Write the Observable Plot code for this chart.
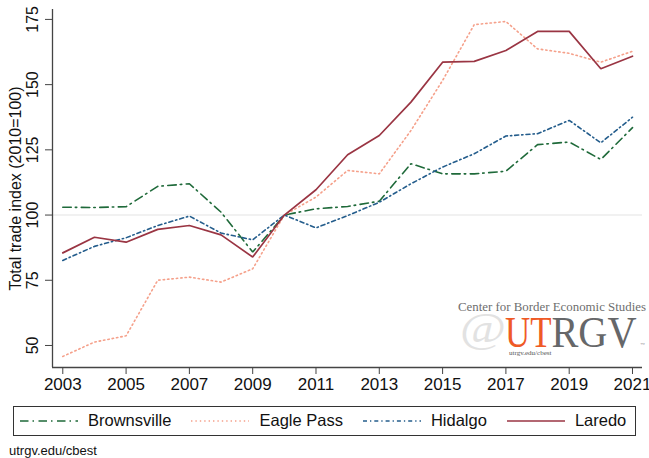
<!DOCTYPE html>
<html>
<head>
<meta charset="utf-8">
<script src="https://cdn.jsdelivr.net/npm/d3@7"></script>
<script src="https://cdn.jsdelivr.net/npm/@observablehq/plot@0.6"></script>
<style>
  body { margin: 0; background: #fff; font-family: "Liberation Sans", Arial, sans-serif; }
  #wrap { position: relative; width: 649px; height: 458px; overflow: hidden; background: #fff; }
  #chart { position: absolute; left: 0; top: 0; }
  #logo { position: absolute; left: 0; top: 0; pointer-events: none; }
  #legend { position: absolute; left: 12.5px; top: 405.5px; width: 623px; height: 30px; box-sizing: border-box;
            border: 1.3px solid #333; display: flex; align-items: center; padding-left: 6.5px; gap: 20px; }
  .item { display: flex; align-items: center; }
  .item span { margin-left: 10px; font-size: 16.5px; color: #111; }
  #caption { position: absolute; left: 9px; top: 443px; font-size: 13px; color: #111; line-height: 15px; }
</style>
</head>
<body>
<div id="wrap">
  <div id="chart"></div>
  <div id="legend"></div>
  <div id="caption">utrgv.edu/cbest</div>
</div>
<script>
// ---- data ----
const years = [2003, 2004, 2005, 2006, 2007, 2008, 2009, 2010, 2011, 2012, 2013, 2014, 2015, 2016, 2017, 2018, 2019, 2020, 2021];
const brownsville = [103.0, 102.9, 103.2, 111.0, 112.0, 101.1, 85.8, 100, 102.4, 103.3, 105.3, 119.7, 115.8, 115.8, 116.8, 127.0, 128.0, 121.3, 133.5];
const eaglePass   = [45.8, 51.3, 53.7, 75.0, 76.2, 74.3, 79.4, 100, 106.9, 117.1, 115.8, 132.4, 151.6, 173.0, 174.2, 163.7, 162.0, 158.6, 162.8];
const hidalgo     = [82.6, 88.0, 91.3, 96.0, 99.6, 93.1, 90.5, 100, 95.1, 99.8, 104.9, 112.0, 118.4, 123.5, 130.3, 131.2, 136.3, 127.7, 137.5];
const laredo      = [85.5, 91.5, 89.6, 94.5, 96.0, 92.4, 83.9, 100, 109.7, 123.1, 130.5, 143.3, 158.6, 158.9, 163.1, 170.4, 170.4, 156.1, 160.9];
const seriesNames = ["Brownsville", "Eagle Pass", "Hidalgo", "Laredo"];
const xTicks = [2003, 2005, 2007, 2009, 2011, 2013, 2015, 2017, 2019, 2021];
const yTicks = [50, 75, 100, 125, 150, 175];
const yTitle = "Total trade index (2010=100)";
const baseline = 100;

// ---- styles ----
const styles = {
  "Brownsville": { stroke: "#1f6a3a", dash: "8.5 4 1.5 4.5", width: 1.6 },
  "Eagle Pass":  { stroke: "#f5a08a", dash: "1.4 3", width: 1.6 },
  "Hidalgo":     { stroke: "#245d8c", dash: "4 3 1.3 3", width: 1.6 },
  "Laredo":      { stroke: "#9a3543", dash: null, width: 1.7 }
};

const valuesBySeries = [brownsville, eaglePass, hidalgo, laredo];
const table = [];
seriesNames.forEach((name, i) => {
  years.forEach((yr, j) => table.push({ series: name, year: yr, value: valuesBySeries[i][j] }));
});

const xDomain = [2002.675, 2021.316];
const yDomain = [41.56, 178.8];

const lineMarks = seriesNames.map(name => Plot.line(table.filter(d => d.series === name), {
  x: "year", y: "value",
  stroke: styles[name].stroke,
  strokeWidth: styles[name].width,
  strokeDasharray: styles[name].dash || undefined,
  strokeLinejoin: "miter"
}));

const chart = Plot.plot({
  width: 649,
  height: 395,
  marginLeft: 52,
  marginRight: 7,
  marginTop: 9,
  marginBottom: 28,
  style: { fontFamily: "Liberation Sans, Arial, sans-serif", fontSize: "16px", color: "#111", background: "#fff" },
  x: { domain: xDomain },
  y: { domain: yDomain },
  marks: [
    Plot.ruleY([baseline], { stroke: "#ececec", strokeWidth: 1.6 }),
    ...lineMarks,
    Plot.ruleX([xDomain[0]], { stroke: "#444", strokeWidth: 1.3 }),
    Plot.ruleY([yDomain[0]], { stroke: "#444", strokeWidth: 1.3 }),
    Plot.axisX({ ticks: xTicks, tickFormat: d => String(d), tickSize: 7, tickPadding: 3, fontSize: 17, stroke: "#444", label: null }),
    Plot.axisY({ ticks: yTicks, tickFormat: () => "", tickSize: 7, stroke: "#444", label: null }),
    Plot.text(yTicks, { y: d => d, text: d => String(d), frameAnchor: "left", dx: -20, rotate: -90,
      textAnchor: "middle", lineAnchor: "middle", fontSize: 16, fill: "#111" }),
    Plot.text([yTitle], { text: d => d, frameAnchor: "left", dx: -37, rotate: -90,
      textAnchor: "middle", lineAnchor: "middle", fontSize: 16, fill: "#111" })
  ]
});
document.getElementById("chart").appendChild(chart);

// ---- logo watermark (text) ----
const NS = "http://www.w3.org/2000/svg";
const logo = document.createElementNS(NS, "svg");
logo.setAttribute("id", "logo");
logo.setAttribute("width", 649);
logo.setAttribute("height", 458);
function addText(str, attrs) {
  const t = document.createElementNS(NS, "text");
  t.textContent = str;
  for (const k in attrs) t.setAttribute(k, attrs[k]);
  logo.appendChild(t);
}
const serif = "Liberation Serif, DejaVu Serif, serif";
addText("@", { x: 460, y: 342, "font-family": serif, "font-size": 42, fill: "#e2e2e2", textLength: 46, lengthAdjust: "spacingAndGlyphs" });
addText("Center for Border Economic Studies", { x: 458, y: 311, "font-family": serif, "font-size": 13, fill: "#6e6e6e", textLength: 188, lengthAdjust: "spacingAndGlyphs" });
addText("UT", { x: 505, y: 346.5, "font-family": serif, "font-size": 44, fill: "#ef5a26", textLength: 46.5, lengthAdjust: "spacingAndGlyphs" });
addText("RGV", { x: 551.5, y: 346.5, "font-family": serif, "font-size": 44, fill: "#666769", textLength: 85, lengthAdjust: "spacingAndGlyphs" });
addText("™", { x: 640.5, y: 346, "font-family": serif, "font-size": 4.5, fill: "#888" });
addText("utrgv.edu/cbest", { x: 509, y: 355, "font-family": serif, "font-size": 6, fill: "#555", textLength: 42.5, lengthAdjust: "spacingAndGlyphs" });
document.getElementById("wrap").appendChild(logo);

// ---- legend ----
const legend = document.getElementById("legend");
seriesNames.forEach(name => {
  const item = document.createElement("div");
  item.className = "item";
  const s = document.createElementNS(NS, "svg");
  s.setAttribute("width", 58);
  s.setAttribute("height", 10);
  const ln = document.createElementNS(NS, "line");
  ln.setAttribute("x1", 0); ln.setAttribute("x2", 58);
  ln.setAttribute("y1", 5); ln.setAttribute("y2", 5);
  ln.setAttribute("stroke", styles[name].stroke);
  ln.setAttribute("stroke-width", styles[name].width);
  if (styles[name].dash) ln.setAttribute("stroke-dasharray", styles[name].dash);
  s.appendChild(ln);
  item.appendChild(s);
  const lab = document.createElement("span");
  lab.textContent = name;
  item.appendChild(lab);
  legend.appendChild(item);
});
</script>
</body>
</html>
